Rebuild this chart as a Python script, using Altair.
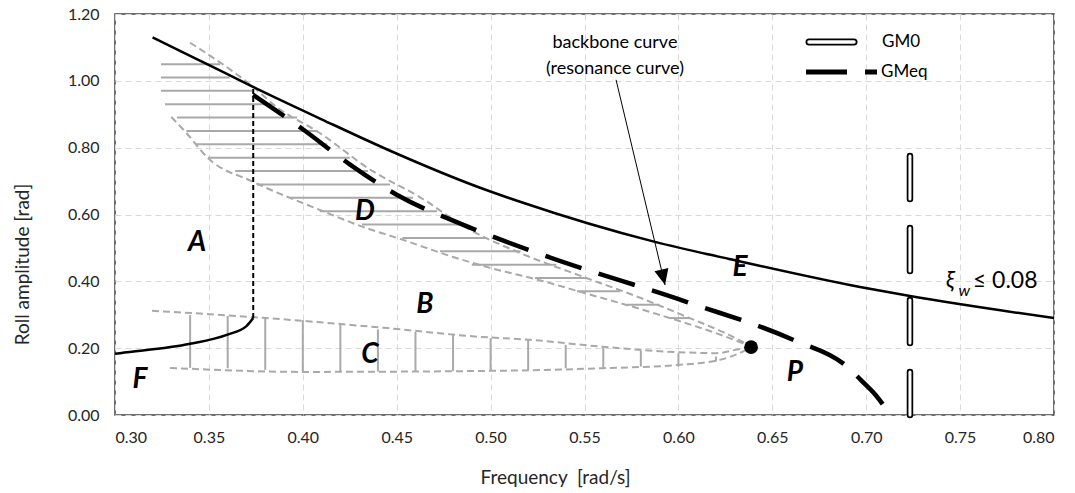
import altair as alt
import pandas as pd

# ---------------------------------------------------------------- data
# upper response branch (solid black)
upper_freq = [0.320, 0.340, 0.3735, 0.410, 0.448, 0.4944, 0.5157, 0.5875, 0.627, 0.6967, 0.7233, 0.800]
upper_amp = [1.130, 1.075, 0.982, 0.885, 0.787, 0.680, 0.638, 0.518, 0.467, 0.383, 0.356, 0.290]

# lower response branch (solid black) and the jump between branches
lower_freq = [0.300, 0.3027, 0.340, 0.3595, 0.370, 0.3736]
lower_amp = [0.183, 0.185, 0.213, 0.240, 0.266, 0.290]
jump_freq = [0.3736]
jump_low = [0.290]
jump_high = [0.982]

# backbone (resonance) curve, GMeq
backbone_freq = [0.3735, 0.400, 0.425, 0.450, 0.4855, 0.5247, 0.6046, 0.661, 0.690, 0.698, 0.705, 0.711]
backbone_amp = [0.958, 0.855, 0.750, 0.659, 0.569, 0.485, 0.338, 0.225, 0.144, 0.100, 0.060, 0.015]

# boundaries of region D
d_top_freq = [0.340, 0.3735, 0.386, 0.409, 0.436, 0.462, 0.489, 0.5157, 0.551, 0.580, 0.606, 0.625, 0.6387]
d_top_amp = [1.114, 0.982, 0.922, 0.844, 0.734, 0.653, 0.554, 0.485, 0.410, 0.350, 0.290, 0.245, 0.205]
d_bot_freq = [0.330, 0.338, 0.3495, 0.3735, 0.409, 0.432, 0.4534, 0.480, 0.500, 0.525, 0.550, 0.575, 0.600, 0.620, 0.6387]
d_bot_amp = [0.892, 0.844, 0.769, 0.698, 0.614, 0.563, 0.524, 0.473, 0.440, 0.405, 0.365, 0.325, 0.282, 0.245, 0.205]

# horizontal hatching of region D
d_hatch_amp = [1.05, 1.01, 0.97, 0.93, 0.89, 0.85, 0.81, 0.77, 0.73, 0.69,
               0.65, 0.61, 0.57, 0.53, 0.49, 0.45, 0.41, 0.37, 0.33, 0.29]
d_hatch_from = [0.3245, 0.3245, 0.3245, 0.3266, 0.333, 0.338, 0.3426, 0.3495, 0.364, 0.3756,
                0.393, 0.409, 0.4315, 0.453, 0.473, 0.490, 0.5236, 0.546, 0.5726, 0.5955]
d_hatch_to = [0.356, 0.361, 0.373, 0.384, 0.397, 0.4075, 0.413, 0.425, 0.4347, 0.4464,
              0.4587, 0.4715, 0.4853, 0.498, 0.516, 0.535, 0.551, 0.569, 0.590, 0.606]

# boundaries of region C
c_top_freq = [0.3197, 0.3735, 0.445, 0.494, 0.521, 0.560, 0.600, 0.620, 0.633, 0.6387]
c_top_amp = [0.312, 0.293, 0.260, 0.234, 0.225, 0.204, 0.188, 0.185, 0.198, 0.203]
c_bot_freq = [0.3293, 0.400, 0.498, 0.560, 0.600, 0.622, 0.634, 0.6387]
c_bot_amp = [0.141, 0.129, 0.132, 0.140, 0.150, 0.165, 0.189, 0.203]

# vertical hatching of region C
c_hatch_freq = [0.34, 0.36, 0.38, 0.40, 0.42, 0.44, 0.46, 0.48, 0.50, 0.52, 0.54, 0.56, 0.58, 0.60, 0.62]
c_hatch_top = [0.299, 0.296, 0.292, 0.284, 0.271, 0.256, 0.249, 0.242, 0.230, 0.225, 0.210, 0.205, 0.192, 0.185, 0.175]
c_hatch_bot = [0.141, 0.140, 0.135, 0.130, 0.130, 0.130, 0.130, 0.132, 0.132, 0.135, 0.140, 0.140, 0.145, 0.145, 0.160]

# end point P of the bifurcation region
p_freq = [0.6387]
p_amp = [0.203]

# GM0 marker line
gm0_freq = [0.7233]
gm0_low = [0.0]
gm0_high = [0.80]

# region letters
region_text = ["A", "B", "C", "D", "E", "F", "P"]
region_freq = [0.3437, 0.465, 0.4358, 0.4331, 0.6328, 0.3133, 0.662]
region_amp = [0.515, 0.329, 0.180, 0.608, 0.440, 0.105, 0.126]

# backbone annotation
note_lines = ["backbone curve", "(resonance curve)"]
note_freq = [0.5662, 0.5662]
note_amp = [1.114, 1.036]
arrow_from = [0.5668, 1.003]
arrow_to = [0.5929, 0.389]

x_ticks = [0.30, 0.35, 0.40, 0.45, 0.50, 0.55, 0.60, 0.65, 0.70, 0.75, 0.80]
y_ticks = [0.0, 0.2, 0.4, 0.6, 0.8, 1.0, 1.2]

# ---------------------------------------------------------------- encodings
FONT = "Lato"
GRAY = "#a9a9a9"
X_SCALE = alt.Scale(domain=[0.30, 0.80], nice=False, zero=False)
Y_SCALE = alt.Scale(domain=[0.0, 1.20], nice=False, zero=False)
X_AXIS = alt.Axis(values=x_ticks, format=".2f", title="Frequency\u00a0 [rad/s]",
                  titleX=440, titleY=62, titleAlign="center", titleBaseline="middle",
                  labelPadding=14)
Y_AXIS = alt.Axis(values=y_ticks, format=".2f", title="Roll amplitude [rad]",
                  titleX=-93, titleY=250, titleAngle=270, titleAlign="center",
                  titleBaseline="middle", labelPadding=16)


def fx(field="f"):
    return alt.X(f"{field}:Q", scale=X_SCALE, axis=X_AXIS)


def fy(field="a"):
    return alt.Y(f"{field}:Q", scale=Y_SCALE, axis=Y_AXIS)


def curve(freq, amp):
    return pd.DataFrame({"f": freq, "a": amp, "i": list(range(len(freq)))})


def line_layer(freq, amp, **mark):
    return alt.Chart(curve(freq, amp)).mark_line(interpolate="monotone", **mark).encode(
        x=fx(), y=fy(), order="i:Q")


# ---------------------------------------------------------------- layers
d_hatch = alt.Chart(pd.DataFrame({"f": d_hatch_from, "f2": d_hatch_to, "a": d_hatch_amp})).mark_rule(
    color=GRAY, strokeWidth=2).encode(x=fx(), x2="f2:Q", y=fy())

c_hatch = alt.Chart(pd.DataFrame({"f": c_hatch_freq, "a": c_hatch_bot, "a2": c_hatch_top})).mark_rule(
    color=GRAY, strokeWidth=2).encode(x=fx(), y=fy(), y2="a2:Q")

gray_dash = dict(color=GRAY, strokeWidth=2, strokeDash=[7, 4])
d_top = line_layer(d_top_freq, d_top_amp, **gray_dash)
d_bot = line_layer(d_bot_freq, d_bot_amp, **gray_dash)
c_top = line_layer(c_top_freq, c_top_amp, **gray_dash)
c_bot = line_layer(c_bot_freq, c_bot_amp, **gray_dash)

upper = line_layer(upper_freq, upper_amp, color="black", strokeWidth=2.5)
lower = line_layer(lower_freq, lower_amp, color="black", strokeWidth=2.5)

jump = alt.Chart(pd.DataFrame({"f": jump_freq, "a": jump_low, "a2": jump_high})).mark_rule(
    color="black", strokeWidth=2, strokeDash=[5, 3]).encode(x=fx(), y=fy(), y2="a2:Q")

backbone = line_layer(backbone_freq, backbone_amp, color="black", strokeWidth=4.5,
                      strokeDash=[38, 18], strokeCap="butt")

gm0_df = pd.DataFrame({"f": gm0_freq, "a": gm0_low, "a2": gm0_high})
gm0_outer = alt.Chart(gm0_df).mark_rule(color="black", strokeWidth=6.5, strokeDash=[43, 29],
                                        strokeCap="round").encode(x=fx(), y=fy(), y2="a2:Q")
gm0_inner = alt.Chart(gm0_df).mark_rule(color="white", strokeWidth=3, strokeDash=[43, 29],
                                        strokeCap="round").encode(x=fx(), y=fy(), y2="a2:Q")

p_point = alt.Chart(pd.DataFrame({"f": p_freq, "a": p_amp})).mark_point(
    filled=True, color="black", size=190, opacity=1).encode(x=fx(), y=fy())

letters = alt.Chart(pd.DataFrame({"f": region_freq, "a": region_amp, "t": region_text})).mark_text(
    font=FONT, fontSize=28, fontWeight="bold", fontStyle="italic", color="black",
    align="center", baseline="middle").encode(x=fx(), y=fy(), text="t:N")

xi_sym = alt.Chart(pd.DataFrame({"f": [0.7425], "a": [0.401], "t": ["ξ"]})).mark_text(
    font=FONT, fontSize=23, fontStyle="italic", align="left", baseline="middle", color="black").encode(
    x=fx(), y=fy(), text="t:N")
xi_sub = alt.Chart(pd.DataFrame({"f": [0.7492], "a": [0.370], "t": ["w"]})).mark_text(
    font=FONT, fontSize=16, fontStyle="italic", align="left", baseline="middle", color="black").encode(
    x=fx(), y=fy(), text="t:N")
xi_rest = alt.Chart(pd.DataFrame({"f": [0.7568], "a": [0.401], "t": ["≤ 0.08"]})).mark_text(
    font=FONT, fontSize=23, align="left", baseline="middle", color="black").encode(
    x=fx(), y=fy(), text="t:N")

note = alt.Chart(pd.DataFrame({"f": note_freq, "a": note_amp, "t": note_lines})).mark_text(
    font=FONT, fontSize=18, align="center", baseline="middle", color="black").encode(
    x=fx(), y=fy(), text="t:N")

arrow_line = alt.Chart(pd.DataFrame({"f": [arrow_from[0]], "a": [arrow_from[1]],
                                     "f2": [arrow_to[0]], "a2": [arrow_to[1]]})).mark_rule(
    color="black", strokeWidth=1).encode(x=fx(), y=fy(), x2="f2:Q", y2="a2:Q")
arrow_head = alt.Chart(pd.DataFrame({"f": [arrow_to[0]], "a": [arrow_to[1]]})).mark_point(
    shape="M0,0L-0.45,-1L0.45,-1Z", size=1000, filled=True, color="black", opacity=1,
    angle=346.6).encode(x=fx(), y=fy())

# legend (placed in pixel space of the plot area)
leg_gm0_outer = alt.Chart().mark_rule(color="black", strokeWidth=7, strokeCap="round").encode(
    x=alt.value(694), x2=alt.value(739), y=alt.value(28))
leg_gm0_inner = alt.Chart().mark_rule(color="white", strokeWidth=3.5, strokeCap="round").encode(
    x=alt.value(694), x2=alt.value(739), y=alt.value(28))
leg_gmeq = alt.Chart().mark_rule(color="black", strokeWidth=5, strokeDash=[41, 18], strokeCap="butt").encode(
    x=alt.value(691), x2=alt.value(762), y=alt.value(58))
leg_text = alt.Chart().mark_text(font=FONT, fontSize=17, align="left", baseline="middle", color="black")
leg_t1 = leg_text.encode(x=alt.value(767), y=alt.value(28), text=alt.value("GM0"))
leg_t2 = leg_text.encode(x=alt.value(766), y=alt.value(58), text=alt.value("GMeq"))

chart = alt.layer(
    d_hatch, c_hatch, d_top, d_bot, c_top, c_bot,
    upper, lower, jump, backbone, gm0_outer, gm0_inner, p_point,
    letters, xi_sym, xi_sub, xi_rest, note, arrow_line, arrow_head,
    leg_gm0_outer, leg_gm0_inner, leg_gmeq, leg_t1, leg_t2,
).properties(
    width=939, height=401,
    autosize=alt.AutoSizeParams(type="none"),
    padding={"left": 115, "top": 14, "right": 21, "bottom": 78},
    background="white",
).configure_view(
    stroke="#404040", strokeWidth=1.5,
).configure_axis(
    grid=True, gridColor="#d9d9d9", gridDash=[6, 4], gridWidth=1,
    domain=False, ticks=False,
    labelFont=FONT, labelFontSize=16, labelColor="#262626",
    titleFont=FONT, titleFontSize=19, titleFontWeight="normal", titleColor="#262626",
)

chart.save("out.html", embed_options={"renderer": "svg", "actions": False})
